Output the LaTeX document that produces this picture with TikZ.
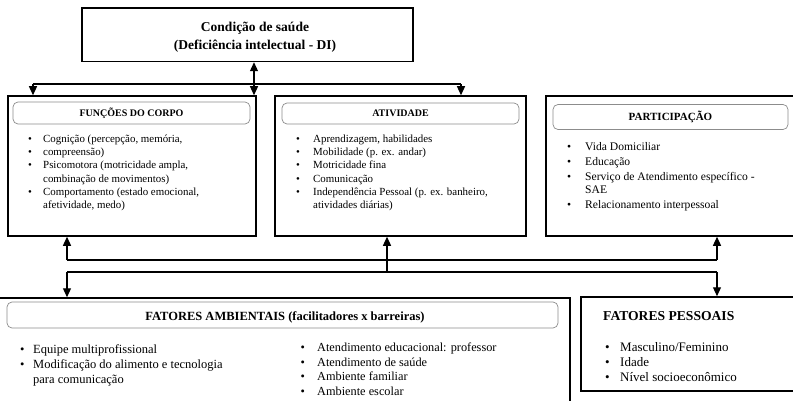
\documentclass[tikz,border=0pt]{standalone}
\usepackage{fontspec}
\setmainfont{Liberation Serif}
\usetikzlibrary{arrows.meta,calc}
\newcommand{\bul}{•}
\begin{document}
\begin{tikzpicture}[x=1pt,y=-1pt,
  box/.style={draw=black,line width=1.5pt,inner sep=0pt},
  hdr/.style={draw=black!45,line width=0.7pt,rounded corners=5pt,inner sep=0pt},
  conn/.style={line width=1.2pt},
  arr/.style={conn,-{Triangle[length=9pt,width=8pt]}},
  darr/.style={conn,{Triangle[length=9pt,width=8pt]}-{Triangle[length=9pt,width=8pt]}},
  hfont/.style={font=\fontsize{10}{12}\selectfont\bfseries},
  lst/.style={inner sep=0pt,anchor=base west,font=\fontsize{10.9}{13.2}\selectfont}
]
\useasboundingbox (0,0) rectangle (793,401);
\fill[white] (0,0) rectangle (793,401);

% top box
\node[box,minimum width=331pt,minimum height=53.5pt] (top) at (247.5,34.75) {};
\node[inner sep=0pt,align=center,font=\fontsize{13.5}{18}\selectfont\bfseries]
  (title) at (255,37.5) {Condição de saúde\\(Deficiência intelectual - DI)};

% three main boxes
\node[box,minimum width=248pt,minimum height=140pt] (F) at (132,166) {};
\node[box,minimum width=251pt,minimum height=140pt] (A) at (400.5,166) {};
\node[box,minimum width=252pt,minimum height=140pt] (P) at (672,166) {};

% header boxes
\node[hdr,hfont,minimum width=237pt,minimum height=22pt] (Fh) at (131.5,113) {FUNÇÕES DO CORPO};
\node[hdr,hfont,minimum width=237pt,minimum height=21pt] (Ah) at (400.5,113.5) {ATIVIDADE};
\node[hdr,minimum width=235pt,minimum height=25pt,font=\fontsize{11}{13}\selectfont\bfseries] (Ph) at (670.5,117) {PARTICIPAÇÃO};

% lists
\node[lst] (Fl) at (28,142.5) {\begin{tabular}[t]{@{}p{15pt}@{}l@{}}
\bul & Cognição (percepção, memória,\\
\bul & compreensão)\\
\bul & Psicomotora (motricidade ampla,\\
 & combinação de movimentos)\\
\bul & Comportamento (estado emocional,\\
 & afetividade, medo)
\end{tabular}};
\node[lst] (Al) at (296,142.5) {\begin{tabular}[t]{@{}p{17pt}@{}l@{}}
\bul & Aprendizagem, habilidades\\
\bul & Mobilidade (p. ex. andar)\\
\bul & Motricidade fina\\
\bul & Comunicação\\
\bul & Independência Pessoal (p. ex. banheiro,\\
 & atividades diárias)
\end{tabular}};
\node[lst,font=\fontsize{11.6}{13.2}\selectfont] (Pl) at (567,150.5) {\begin{tabular}[t]{@{}p{18pt}@{}l@{}}
\bul & Vida Domiciliar\\[1.8pt]
\bul & Educação\\[1.8pt]
\bul & Serviço de Atendimento específico -\\
 & SAE\\[1.8pt]
\bul & Relacionamento interpessoal
\end{tabular}};

% bottom boxes
\node[box,minimum width=574pt,minimum height=108pt] (FA) at (283,352) {};
\node[box,minimum width=217pt,minimum height=94pt] (FP) at (689.5,344) {};

\node[hdr,minimum width=551pt,minimum height=26pt] (FAh) at (282.5,315) {};
\node[inner sep=0pt,font=\fontsize{12.5}{14}\selectfont\bfseries] (FAt) at (285,317)
  {FATORES AMBIENTAIS (facilitadores x barreiras)};

\node[lst,font=\fontsize{12.5}{14.8}\selectfont] (FAl) at (20,353.5) {\begin{tabular}[t]{@{}p{13pt}@{}l@{}}
\bul & Equipe multiprofissional\\
\bul & Modificação do alimento e tecnologia\\
 & para comunicação
\end{tabular}};
\node[lst,font=\fontsize{12.3}{14.5}\selectfont] (FAr) at (300.5,351.5) {\begin{tabular}[t]{@{}p{16.5pt}@{}l@{}}
\bul & Atendimento educacional: professor\\
\bul & Atendimento de saúde\\
\bul & Ambiente familiar\\
\bul & Ambiente escolar
\end{tabular}};

\node[inner sep=0pt,anchor=base west,font=\fontsize{13.6}{15}\selectfont\bfseries] (FPt) at (603,320.5) {FATORES PESSOAIS};
\node[lst,font=\fontsize{13}{15}\selectfont] (FPl) at (605,351.5) {\begin{tabular}[t]{@{}p{15pt}@{}l@{}}
\bul & Masculino/Feminino\\
\bul & Idade\\
\bul & Nível socioeconômico
\end{tabular}};

% connectors
\coordinate (j0) at (254,84);
\coordinate (bL) at (33,84);
\coordinate (bR) at (461,84);
\draw[darr] (top.south -| j0) -- (A.north -| j0);
\draw[conn] (bL) -- (bR);
\draw[arr] (bL) -- (bL |- F.north);
\draw[arr] (bR) -- (bR |- P.north);

\coordinate (u1) at (67,260);
\coordinate (u2) at (717,260);
\draw[conn] (u1) -- (u2);
\draw[arr] (u1) -- (u1 |- F.south);
\draw[arr] (u2) -- (u2 |- P.south);

\coordinate (d1) at (67,272);
\coordinate (d2) at (717,272);
\coordinate (dm) at (387,272);
\draw[conn] (d1) -- (d2);
\draw[arr] (d1) -- (d1 |- FA.north);
\draw[arr] (d2) -- (d2 |- FP.north);
\draw[arr] (dm) -- (dm |- A.south);
\end{tikzpicture}
\end{document}
